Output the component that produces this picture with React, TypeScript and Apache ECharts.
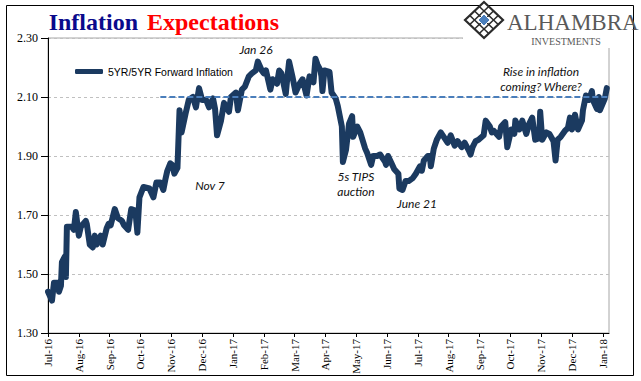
import React, { useEffect, useRef } from "react";
import * as echarts from "echarts";

const seriesName = "5YR/5YR Forward Inflation";

const tickLabels = [
  "Jul-16", "Aug-16", "Sep-16", "Oct-16", "Nov-16", "Dec-16", "Jan-17", "Feb-17", "Mar-17",
  "Apr-17", "May-17", "Jun-17", "Jul-17", "Aug-17", "Sep-17", "Oct-17", "Nov-17", "Dec-17", "Jan-18",
];

const dates = [
  "2016-07-01", "2016-07-05", "2016-07-07", "2016-07-11", "2016-07-12", "2016-07-14", "2016-07-15", "2016-07-18",
  "2016-07-19", "2016-07-20", "2016-07-25", "2016-07-27", "2016-07-29", "2016-08-01", "2016-08-03", "2016-08-08",
  "2016-08-09", "2016-08-12", "2016-08-15", "2016-08-17", "2016-08-19", "2016-08-23", "2016-08-25", "2016-08-29",
  "2016-08-31", "2016-09-02", "2016-09-06", "2016-09-09", "2016-09-13", "2016-09-15", "2016-09-19", "2016-09-22",
  "2016-09-26", "2016-09-28", "2016-09-30", "2016-10-04", "2016-10-10", "2016-10-14", "2016-10-17", "2016-10-21",
  "2016-10-24", "2016-10-26", "2016-10-28", "2016-10-31", "2016-11-02", "2016-11-04", "2016-11-07", "2016-11-09",
  "2016-11-11", "2016-11-15", "2016-11-18", "2016-11-22", "2016-11-25", "2016-11-28", "2016-12-01", "2016-12-05",
  "2016-12-08", "2016-12-12", "2016-12-14", "2016-12-16", "2016-12-20", "2016-12-23", "2016-12-28", "2016-12-30",
  "2017-01-04", "2017-01-06", "2017-01-10", "2017-01-13", "2017-01-17", "2017-01-20", "2017-01-24", "2017-01-26",
  "2017-01-30", "2017-02-01", "2017-02-03", "2017-02-07", "2017-02-09", "2017-02-13", "2017-02-15", "2017-02-17",
  "2017-02-21", "2017-02-22", "2017-02-24", "2017-02-27", "2017-03-02", "2017-03-06", "2017-03-09", "2017-03-13",
  "2017-03-16", "2017-03-20", "2017-03-22", "2017-03-24", "2017-03-27", "2017-03-28", "2017-03-29", "2017-03-31",
  "2017-04-05", "2017-04-07", "2017-04-11", "2017-04-13", "2017-04-17", "2017-04-18", "2017-04-21", "2017-04-24",
  "2017-04-27", "2017-04-28", "2017-05-02", "2017-05-05", "2017-05-10", "2017-05-12", "2017-05-16", "2017-05-18",
  "2017-05-22", "2017-05-25", "2017-05-30", "2017-05-31", "2017-06-02", "2017-06-06", "2017-06-08", "2017-06-12",
  "2017-06-13", "2017-06-16", "2017-06-19", "2017-06-22", "2017-06-26", "2017-06-29", "2017-07-03", "2017-07-05",
  "2017-07-07", "2017-07-11", "2017-07-13", "2017-07-14", "2017-07-17", "2017-07-20", "2017-07-24", "2017-07-27",
  "2017-07-31", "2017-08-03", "2017-08-07", "2017-08-10", "2017-08-14", "2017-08-17", "2017-08-21", "2017-08-23",
  "2017-08-25", "2017-08-28", "2017-08-31", "2017-09-05", "2017-09-07", "2017-09-11", "2017-09-13", "2017-09-15",
  "2017-09-20", "2017-09-22", "2017-09-26", "2017-09-28", "2017-10-02", "2017-10-05", "2017-10-06", "2017-10-10",
  "2017-10-13", "2017-10-17", "2017-10-20", "2017-10-23", "2017-10-26", "2017-10-30", "2017-10-31", "2017-11-02",
  "2017-11-06", "2017-11-09", "2017-11-13", "2017-11-15", "2017-11-17", "2017-11-20", "2017-11-24", "2017-11-27",
  "2017-11-29", "2017-12-01", "2017-12-04", "2017-12-07", "2017-12-11", "2017-12-12", "2017-12-15", "2017-12-18",
  "2017-12-21", "2017-12-22", "2017-12-26", "2017-12-28", "2017-12-29", "2018-01-03", "2018-01-05",
];

const values = [
  1.44, 1.41, 1.47, 1.47, 1.44, 1.46, 1.54, 1.56,
  1.49, 1.66, 1.66, 1.65, 1.71, 1.63, 1.66, 1.68,
  1.67, 1.60, 1.59, 1.63, 1.60, 1.63, 1.60, 1.655,
  1.67, 1.665, 1.72, 1.69, 1.68, 1.665, 1.65, 1.72,
  1.715, 1.64, 1.76, 1.795, 1.79, 1.76, 1.81, 1.81,
  1.785, 1.82, 1.85, 1.875, 1.87, 1.84, 1.86, 2.055,
  1.98, 2.045, 2.09, 2.10, 2.065, 2.13, 2.09, 2.09,
  2.065, 2.095, 2.06, 1.97, 2.02, 2.08, 2.05, 2.10,
  2.115, 2.055, 2.125, 2.135, 2.17, 2.18, 2.19, 2.22,
  2.19, 2.18, 2.19, 2.125, 2.16, 2.145, 2.19, 2.18,
  2.11, 2.15, 2.22, 2.17, 2.115, 2.145, 2.16, 2.105,
  2.17, 2.15, 2.23, 2.21, 2.19, 2.17, 2.12, 2.19,
  2.185, 2.115, 2.095, 2.07, 2.00, 1.88, 1.92, 2.01,
  2.035, 1.965, 2.00, 1.98, 1.925, 1.91, 1.87, 1.90,
  1.90, 1.905, 1.88, 1.87, 1.90, 1.87, 1.855, 1.84,
  1.79, 1.785, 1.815, 1.815, 1.825, 1.84, 1.865, 1.85,
  1.885, 1.90, 1.90, 1.865, 1.925, 1.955, 1.98, 1.965,
  1.945, 1.97, 1.935, 1.95, 1.93, 1.945, 1.92, 1.905,
  1.93, 1.95, 1.955, 1.97, 2.02, 2.00, 1.98, 1.985,
  1.965, 2.00, 2.015, 1.93, 1.99, 1.975, 2.02, 1.99,
  2.02, 1.975, 2.01, 2.03, 1.955, 1.96, 2.05, 1.955,
  1.98, 1.975, 1.95, 1.885, 1.955, 1.965, 1.985, 1.995,
  2.03, 1.99, 2.04, 1.99, 2.02, 2.055, 2.105, 2.09,
  2.12, 2.09, 2.06, 2.10, 2.055, 2.095, 2.13,
];

const referenceValue = 2.1;
const referenceStart = "2016-10-21";

const annotations = [
  { text: "Jan 26", x: 256, y: 49 },
  { text: "Nov 7", x: 210, y: 185 },
  { text: "5s TIPS", x: 356, y: 176 },
  { text: "auction", x: 356, y: 191 },
  { text: "June 21", x: 417, y: 203 },
  { text: "Rise in inflation", x: 541, y: 71 },
  { text: "coming? Where?", x: 541, y: 86 },
];

const AXIS_MAX = 18.2;

function toMonthIndex(s: string): number {
  const [y, m, d] = s.split("-").map(Number);
  const dim = new Date(y, m, 0).getDate();
  return (y - 2016) * 12 + (m - 7) + (d - 1) / dim;
}

function lerp(a: number[], b: number[], t: number) {
  return [a[0] + (b[0] - a[0]) * t, a[1] + (b[1] - a[1]) * t];
}

export default function App() {
  const ref = useRef<HTMLDivElement>(null);
  useEffect(() => {
    document.body.style.margin = "0";
    const chart = echarts.init(ref.current!, undefined, { renderer: "svg" });
    const data = dates.map((d, i) => [toMonthIndex(d), values[i]]);

    const T = [484, 2], R = [503, 20], B = [484, 38], L = [465, 20];
    const lattice: any[] = [];
    [0.25, 0.5, 0.75].forEach((t) => {
      const p1 = lerp(L, T, t), p2 = lerp(B, R, t);
      const q1 = lerp(L, B, t), q2 = lerp(T, R, t);
      lattice.push({ type: "line", shape: { x1: p1[0], y1: p1[1], x2: p2[0], y2: p2[1] }, style: { stroke: "#2b2b2b", lineWidth: 1.6 }, z: 101 });
      lattice.push({ type: "line", shape: { x1: q1[0], y1: q1[1], x2: q2[0], y2: q2[1] }, style: { stroke: "#2b2b2b", lineWidth: 1.6 }, z: 101 });
    });

    chart.setOption({
      animation: false,
      backgroundColor: "#ffffff",
      grid: { left: 48, right: 32, top: 38, bottom: 48, show: true, borderColor: "#a6a6a6", borderWidth: 1 },
      legend: {
        show: true,
        left: 70,
        top: 61,
        itemWidth: 28,
        itemHeight: 5,
        icon: "roundRect",
        data: [seriesName],
        textStyle: { fontFamily: "Liberation Sans, Arial, sans-serif", fontSize: 10.5, color: "#000" },
      },
      xAxis: {
        type: "value",
        min: 0,
        max: AXIS_MAX,
        interval: 1,
        axisLine: { lineStyle: { color: "#000", width: 1 } },
        axisTick: { length: 4, lineStyle: { color: "#000" } },
        splitLine: { show: false },
        axisLabel: {
          rotate: 90,
          margin: 6,
          fontFamily: "Liberation Serif, Times New Roman, serif",
          fontSize: 11,
          color: "#000",
          showMaxLabel: false,
          formatter: (v: number) => {
            const r = Math.round(v);
            if (Math.abs(v - r) > 1e-6) return "";
            return tickLabels[r] ?? "";
          },
        },
      },
      yAxis: {
        type: "value",
        min: 1.3,
        max: 2.3,
        interval: 0.2,
        axisLine: { show: true, lineStyle: { color: "#000", width: 1 } },
        axisTick: { show: true, length: 7, lineStyle: { color: "#000" } },
        splitLine: { show: true, lineStyle: { color: "#c0c0c0", type: [3, 3], width: 1 } },
        axisLabel: {
          margin: 10,
          fontFamily: "Liberation Serif, Times New Roman, serif",
          fontSize: 12,
          color: "#000",
          formatter: (v: number) => v.toFixed(2),
        },
      },
      series: [
        {
          type: "line",
          name: seriesName,
          data,
          symbol: "none",
          showSymbol: false,
          lineStyle: { color: "#1b3a60", width: 6, join: "round", cap: "round" },
          itemStyle: { color: "#1b3a60" },
          markLine: {
            silent: true,
            symbol: "none",
            label: { show: false },
            lineStyle: { color: "#4a7ebb", width: 2, type: [6, 3] },
            data: [[{ coord: [toMonthIndex(referenceStart), referenceValue] }, { coord: [AXIS_MAX, referenceValue] }]],
          },
        },
      ],
      graphic: [
        { type: "rect", shape: { x: 6.5, y: 5.5, width: 627, height: 370 }, style: { fill: "none", stroke: "#000", lineWidth: 1 }, z: 100 },
        {
          type: "text", x: 138, y: 22, z: 100,
          style: { text: "Inflation", fill: "#0a0a8c", font: "bold 24px 'Liberation Serif', 'Times New Roman', serif", textAlign: "right", textVerticalAlign: "middle" },
        },
        {
          type: "text", x: 147, y: 22, z: 100,
          style: { text: "Expectations", fill: "#ff0000", font: "bold 24px 'Liberation Serif', 'Times New Roman', serif", textAlign: "left", textVerticalAlign: "middle" },
        },
        { type: "rect", shape: { x: 463, y: 28, width: 150, height: 20 }, style: { fill: "#ffffff" }, z: 99 },
        { type: "polygon", shape: { points: [T, R, B, L] }, style: { fill: "#ffffff", stroke: "#2b2b2b", lineWidth: 2.2 }, z: 100 },
        ...lattice,
        { type: "polygon", shape: { points: [[484, 14], [490, 20], [484, 26], [478, 20]] }, style: { fill: "#4a7ebb", stroke: "#ffffff", lineWidth: 1 }, z: 102 },
        {
          type: "text", x: 507, y: 22, z: 100,
          style: { text: "ALHAMBRA", fill: "#595959", font: "23px 'Liberation Serif', 'Times New Roman', serif", textAlign: "left", textVerticalAlign: "middle" },
        },
        {
          type: "text", x: 566, y: 41, z: 100,
          style: { text: "INVESTMENTS", fill: "#595959", font: "10px 'Liberation Serif', 'Times New Roman', serif", textAlign: "center", textVerticalAlign: "middle" },
        },
        ...annotations.map((a) => ({
          type: "text", x: a.x, y: a.y, z: 100,
          style: { text: a.text, fill: "#111111", font: "italic 12px Lato, 'Open Sans', sans-serif", textAlign: "center", textVerticalAlign: "middle" },
        })),
      ],
    });
    return () => chart.dispose();
  }, []);
  return <div ref={ref} style={{ width: 641, height: 381 }} />;
}
